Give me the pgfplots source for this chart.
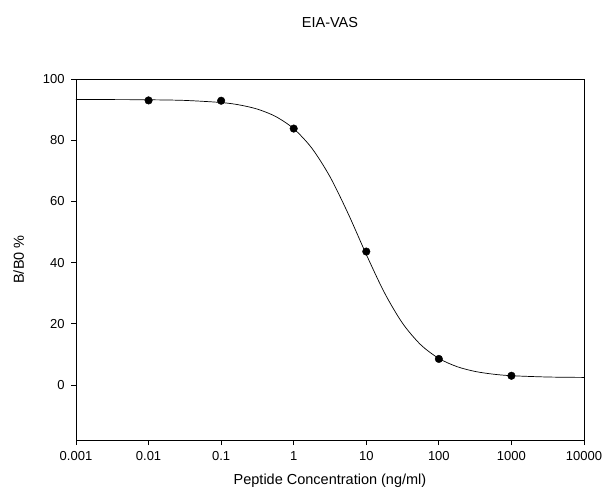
\documentclass[border=0pt]{standalone}
\usepackage{fontspec}
\setmainfont{Liberation Sans}
\usepackage{pgfplots}
\pgfplotsset{compat=1.18}

\begin{document}
\begin{tikzpicture}
\begin{axis}[
    scale only axis,
    width=508pt,
    height=361pt,
    xmode=log,
    log basis x=10,
    xmin=0.001, xmax=10000,
    ymin=-18, ymax=100,
    xtick={0.001,0.01,0.1,1,10,100,1000,10000},
    xticklabels={0.001,0.01,0.1,1,10,100,1000,10000},
    ytick={0,20,40,60,80,100},
    minor xtick={},
    xtick pos=left,
    ytick pos=left,
    tick align=outside,
    major tick length=5pt,
    tick style={black, line width=0.8pt},
    axis line style={line width=0.8pt},
    /pgf/number format/assume math mode=true,
    tick label style={font=\fontsize{13}{15}\selectfont},
    xticklabel style={yshift=-3pt},
    yticklabel style={xshift=-3pt},
    xlabel={Peptide Concentration (ng/ml)},
    ylabel={B/B0 \%},
    label style={font=\fontsize{14.5}{16}\selectfont},
    xlabel style={yshift=-6pt},
    ylabel style={yshift=12pt},
    clip=false,
]
% fitted curve
\addplot[black, line width=0.7pt, smooth, no marks] coordinates {
    (0.001, 93.29) (0.00316, 93.27) (0.01, 93.21) (0.0316, 93.00)
    (0.1, 92.31) (0.178, 91.53) (0.316, 90.15) (0.562, 87.76)
    (1, 83.75) (1.78, 77.37) (3.16, 68.06) (5.62, 56.01)
    (10, 42.65) (17.8, 30.14) (31.6, 20.16) (56.2, 13.15)
    (100, 8.67) (178, 5.98) (316, 4.41) (562, 3.52)
    (1000, 3.02) (3162, 2.59) (10000, 2.46)
};
% measured points
\addplot[only marks, mark=*, mark size=3.8pt, black] coordinates {
    (0.01, 93.0) (0.1, 92.9) (1, 83.8) (10, 43.6) (100, 8.5) (1000, 3.0)
};
\end{axis}
\node[font=\fontsize{14.5}{17}\selectfont] at ([yshift=56pt]current axis.north) {EIA-VAS};
\useasboundingbox ([xshift=-76pt, yshift=-62pt]current axis.south west)
    rectangle ([xshift=22pt, yshift=79pt]current axis.north east);
\end{tikzpicture}
\end{document}
